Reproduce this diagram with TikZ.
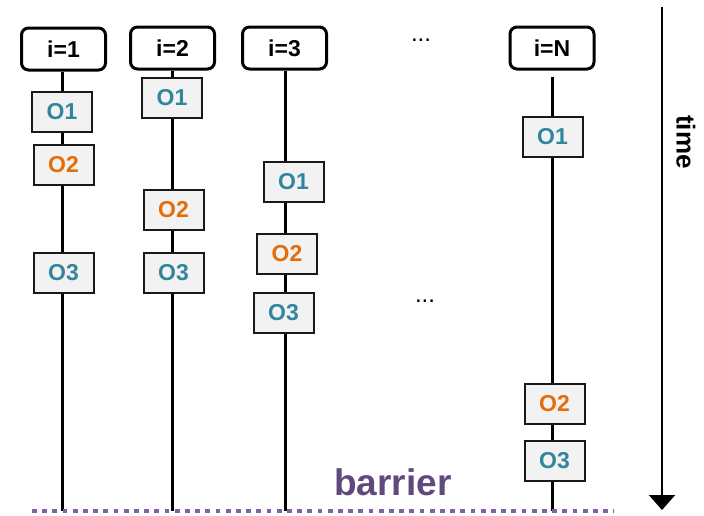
\documentclass[tikz,border=0pt]{standalone}
\usepackage{fontspec}
\setmainfont{Liberation Sans}
\usetikzlibrary{arrows.meta}
\definecolor{teal1}{HTML}{31859C}
\definecolor{orng}{HTML}{E46C0A}
\definecolor{boxfill}{HTML}{F2F2F2}
\definecolor{purpdot}{HTML}{8064A2}
\definecolor{purptext}{HTML}{604A7B}
\begin{document}
\begin{tikzpicture}[x=1pt,y=-1pt,
  procbox/.style={draw=black,line width=3pt,rounded corners=7pt,fill=white,
    minimum width=84pt,minimum height=42pt,inner sep=0pt,
    font=\fontsize{23}{23}\selectfont\bfseries},
  opbox/.style={draw=black!90,line width=2pt,fill=boxfill,
    minimum width=60pt,minimum height=40pt,inner sep=0pt,
    font=\fontsize{23}{23}\selectfont\bfseries},
  opa/.style={opbox,text=teal1},
  opb/.style={opbox,text=orng},
  tline/.style={line width=3pt,black},
  dotsnode/.style={font=\fontsize{24}{24}\selectfont,inner sep=0pt}]
\useasboundingbox (0,0) rectangle (704,515);
% headers
\node[procbox] (p1) at (63.5,49) {i=1};
\node[procbox] (p2) at (172.5,48) {i=2};
\node[procbox] (p3) at (284.5,48) {i=3};
\node[procbox] (pN) at (552,48) {i=N};
% ops
\node[opa] (a1) at (62,112) {O1};
\node[opb] (b1) at (63.5,165) {O2};
\node[opa] (c1) at (63.5,273) {O3};
\node[opa] (a2) at (172,98) {O1};
\node[opb] (b2) at (173.5,209.5) {O2};
\node[opa] (c2) at (173.5,273) {O3};
\node[opa] (a3) at (293.5,182) {O1};
\node[opb] (b3) at (287,253.5) {O2};
\node[opa] (c3) at (283.5,313) {O3};
\node[opa] (aN) at (552.5,137) {O1};
\node[opb] (bN) at (554.5,403.5) {O2};
\node[opa] (cN) at (554.5,460.5) {O3};
% bottoms
\coordinate (e1) at (62,511);
\coordinate (e2) at (172,511);
\coordinate (e3) at (285,511);
\coordinate (eN) at (552,511);
% lines
\draw[tline] (p1.south -| e1) -- (a1.north -| e1);
\draw[tline] (a1.south -| e1) -- (b1.north -| e1);
\draw[tline] (b1.south -| e1) -- (c1.north -| e1);
\draw[tline] (c1.south -| e1) -- (e1);
\draw[tline] (p2.south -| e2) -- (a2.north -| e2);
\draw[tline] (a2.south -| e2) -- (b2.north -| e2);
\draw[tline] (b2.south -| e2) -- (c2.north -| e2);
\draw[tline] (c2.south -| e2) -- (e2);
\draw[tline] (p3.south -| e3) -- (a3.north -| e3);
\draw[tline] (a3.south -| e3) -- (b3.north -| e3);
\draw[tline] (b3.south -| e3) -- (c3.north -| e3);
\draw[tline] (c3.south -| e3) -- (e3);
\draw[tline,shorten <=6pt] (pN.south -| eN) -- (aN.north -| eN);
\draw[tline] (aN.south -| eN) -- (bN.north -| eN);
\draw[tline] (bN.south -| eN) -- (cN.north -| eN);
\draw[tline] (cN.south -| eN) -- (eN);
% dots
\node[dotsnode] (d1) at (421,40) {...};
\node[dotsnode] (d2) at (425,301) {...};
% barrier
\coordinate (bl) at (32,511);
\coordinate (br) at (614,511);
\draw[purpdot,line width=4.5pt,dash pattern=on 4.7pt off 5.5pt] (bl) -- (br);
\node[text=purptext,font=\fontsize{37}{37}\selectfont\bfseries,inner sep=0pt] (bar) at (393,482) {barrier};
% time
\coordinate (t0) at (662,7);
\coordinate (t1) at (662,510);
\draw[line width=2pt,-{Triangle[length=15pt,width=26pt]}] (t0) -- (t1);
\node[rotate=-90,font=\fontsize{26}{26}\selectfont\bfseries,inner sep=0pt] (tm) at (686,142) {time};
\end{tikzpicture}
\end{document}
